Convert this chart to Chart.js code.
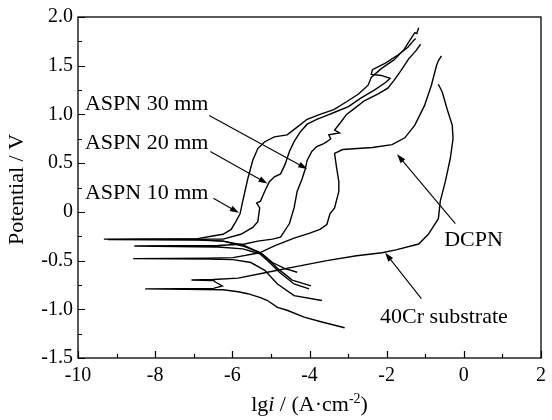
<!DOCTYPE html>
<html>
<head>
<meta charset="utf-8">
<script src="https://cdn.jsdelivr.net/npm/chart.js@4/dist/chart.umd.min.js"></script>
<style>
  html, body { margin: 0; padding: 0; background: #fff; }
  canvas { display: block; }
</style>
</head>
<body>
<canvas id="chart" width="552" height="420"></canvas>
<script>
// Potentiodynamic polarization curves: lg i (A/cm^2) vs potential (V)
const aspn10Lgi = [-4.32,-4.65,-4.96,-5.27,-5.73,-6.24,-6.88,-9.33,-6.90,-6.55,-6.24,-6.03,-5.91,-5.80,-5.73,-5.60,-5.47,-5.34,-5.16,-4.91,-4.58,-4.32,-4.06,-3.73,-3.37,-3.04,-2.73,-2.48,-2.40,-2.14,-1.81,-1.56,-1.40,-1.27,-1.22,-1.17];
const aspn10E   = [-0.62,-0.58,-0.52,-0.42,-0.34,-0.30,-0.285,-0.28,-0.275,-0.25,-0.23,-0.18,-0.10,-0.02,0.11,0.34,0.53,0.65,0.72,0.77,0.79,0.87,0.95,1.00,1.05,1.13,1.21,1.30,1.38,1.47,1.56,1.66,1.76,1.84,1.83,1.89];

const aspn20Lgi = [-3.96,-4.45,-4.83,-5.09,-5.27,-5.73,-6.24,-6.88,-9.23,-6.88,-6.24,-5.78,-5.47,-5.34,-5.29,-5.37,-5.27,-5.14,-5.04,-4.91,-4.75,-4.63,-4.52,-4.40,-4.24,-4.06,-3.81,-3.55,-3.30,-2.99,-2.66,-2.32,-2.02,-1.91,-2.14,-2.40,-2.37,-2.02,-1.71,-1.45,-1.30,-1.25];
const aspn20E   = [-0.76,-0.70,-0.58,-0.48,-0.42,-0.35,-0.30,-0.29,-0.285,-0.28,-0.28,-0.23,-0.16,-0.10,0.04,0.09,0.11,0.23,0.31,0.36,0.39,0.49,0.62,0.72,0.82,0.90,0.95,0.99,1.03,1.08,1.17,1.25,1.33,1.37,1.40,1.41,1.46,1.53,1.61,1.69,1.76,1.78];

const aspn30Lgi = [-4.01,-4.40,-4.78,-5.09,-5.29,-5.73,-6.37,-8.54,-6.37,-5.68,-5.34,-4.96,-4.75,-4.52,-4.40,-4.32,-4.19,-4.11,-4.06,-3.94,-3.81,-3.63,-3.55,-3.45,-3.50,-3.22,-3.35,-3.19,-3.04,-2.84,-2.58,-2.22,-1.97,-1.81,-1.63,-1.43,-1.25,-1.12];
const aspn30E   = [-0.79,-0.74,-0.62,-0.50,-0.43,-0.38,-0.36,-0.35,-0.345,-0.33,-0.30,-0.28,-0.26,-0.12,0.04,0.21,0.34,0.44,0.53,0.62,0.67,0.70,0.72,0.75,0.79,0.81,0.84,0.92,1.00,1.06,1.14,1.21,1.27,1.35,1.45,1.57,1.65,1.72];

const dcpnLgi = [-3.68,-4.40,-4.83,-5.16,-5.52,-5.98,-6.62,-8.57,-6.62,-5.98,-5.29,-4.91,-4.40,-4.01,-3.73,-3.55,-3.47,-3.35,-3.24,-3.24,-3.30,-3.35,-3.14,-2.37,-1.86,-1.53,-1.27,-1.02,-0.84,-0.71,-0.66,-0.58];
const dcpnE   = [-0.91,-0.86,-0.74,-0.60,-0.52,-0.49,-0.485,-0.48,-0.475,-0.47,-0.42,-0.35,-0.27,-0.22,-0.18,-0.13,-0.02,0.04,0.21,0.31,0.46,0.60,0.64,0.66,0.69,0.76,0.89,1.09,1.30,1.50,1.55,1.60];

const substrateLgi = [-3.09,-3.68,-4.14,-4.58,-4.83,-5.09,-5.27,-5.60,-5.85,-6.24,-8.26,-6.49,-6.26,-6.44,-6.49,-7.06,-6.49,-5.85,-5.09,-4.32,-3.55,-2.78,-2.12,-1.76,-1.17,-0.92,-0.66,-0.61,-0.48,-0.35,-0.28,-0.30,-0.43,-0.56,-0.66];
const substrateE   = [-1.19,-1.13,-1.08,-1.01,-0.98,-0.91,-0.88,-0.84,-0.82,-0.80,-0.79,-0.785,-0.76,-0.72,-0.705,-0.70,-0.695,-0.68,-0.62,-0.56,-0.50,-0.45,-0.42,-0.39,-0.33,-0.23,-0.07,0.11,0.31,0.55,0.75,0.89,1.05,1.23,1.31];

// Axis ticks
const lgiTickValues = [-10, -8, -6, -4, -2, 0, 2];
const lgiTickLabels = ['-10', '-8', '-6', '-4', '-2', '0', '2'];
const potentialTickValues = [-1.5, -1.0, -0.5, 0, 0.5, 1.0, 1.5, 2.0];
const potentialTickLabels = ['-1.5', '-1.0', '-0.5', '0', '0.5', '1.0', '1.5', '2.0'];
const lgiMinorValues = [-9, -7, -5, -3, -1, 1];
const potentialMinorValues = [-1.25, -0.75, -0.25, 0.25, 0.75, 1.25, 1.75];

// Curve call-outs: label (left, baseline) and arrow from -> to, in data units
const callouts = [
  { text: 'ASPN 30 mm', at: [-9.82, 1.05], from: [-6.60, 0.99], to: [-4.06, 0.44] },
  { text: 'ASPN 20 mm', at: [-9.82, 0.65], from: [-6.57, 0.62], to: [-5.09, 0.29] },
  { text: 'ASPN 10 mm', at: [-9.82, 0.13], from: [-6.49, 0.14], to: [-5.83, -0.01] },
  { text: 'DCPN', at: [-0.51, -0.35], from: [-0.22, -0.12], to: [-1.73, 0.59] },
  { text: '40Cr substrate', at: [-2.17, -1.14], from: [-1.10, -0.89], to: [-2.04, -0.42] }
];

const SERIF = '"Liberation Serif", "Times New Roman", Times, serif';

function points(xs, ys) {
  return xs.map((x, i) => ({ x: x, y: ys[i] }));
}

function curve(label, xs, ys) {
  return {
    label: label,
    data: points(xs, ys),
    showLine: true,
    borderColor: '#000',
    backgroundColor: '#000',
    borderWidth: 1.4,
    pointRadius: 0,
    pointHoverRadius: 0,
    fill: false,
    tension: 0
  };
}

function drawArrow(ctx, x0, y0, x1, y1) {
  const ang = Math.atan2(y1 - y0, x1 - x0);
  const L = 9, W = 3;
  const c = Math.cos(ang), s = Math.sin(ang);
  ctx.beginPath();
  ctx.moveTo(x0, y0);
  ctx.lineTo(x1 - L * 0.7 * c, y1 - L * 0.7 * s);
  ctx.stroke();
  ctx.beginPath();
  ctx.moveTo(x1, y1);
  ctx.lineTo(x1 - L * c + W * s, y1 - L * s - W * c);
  ctx.lineTo(x1 - L * c - W * s, y1 - L * s + W * c);
  ctx.closePath();
  ctx.fill();
}

const decor = {
  id: 'decor',
  afterDraw(chart) {
    const { ctx, chartArea: a, scales } = chart;
    const xs = scales.x, ys = scales.y;
    ctx.save();
    ctx.strokeStyle = '#000';
    ctx.fillStyle = '#000';

    // frame
    ctx.lineWidth = 1.3;
    ctx.strokeRect(a.left, a.top, a.right - a.left, a.bottom - a.top);

    // inward tick marks
    ctx.lineWidth = 1.2;
    ctx.beginPath();
    lgiTickValues.forEach(v => {
      const p = Math.round(xs.getPixelForValue(v)) + 0.5;
      ctx.moveTo(p, a.bottom); ctx.lineTo(p, a.bottom - 7);
    });
    lgiMinorValues.forEach(v => {
      const p = Math.round(xs.getPixelForValue(v)) + 0.5;
      ctx.moveTo(p, a.bottom); ctx.lineTo(p, a.bottom - 4);
    });
    potentialTickValues.forEach(v => {
      const p = Math.round(ys.getPixelForValue(v)) + 0.5;
      ctx.moveTo(a.left, p); ctx.lineTo(a.left + 7, p);
    });
    potentialMinorValues.forEach(v => {
      const p = Math.round(ys.getPixelForValue(v)) + 0.5;
      ctx.moveTo(a.left, p); ctx.lineTo(a.left + 4, p);
    });
    ctx.stroke();

    // call-outs
    ctx.font = '22px ' + SERIF;
    ctx.textAlign = 'left';
    ctx.textBaseline = 'alphabetic';
    ctx.lineWidth = 1.1;
    callouts.forEach(c => {
      ctx.fillText(c.text, xs.getPixelForValue(c.at[0]), ys.getPixelForValue(c.at[1]));
      drawArrow(ctx,
        xs.getPixelForValue(c.from[0]), ys.getPixelForValue(c.from[1]),
        xs.getPixelForValue(c.to[0]), ys.getPixelForValue(c.to[1]));
    });

    // x axis title: lg i / (A·cm^-2)
    const parts = [
      { t: 'lg', f: '22px ' + SERIF, dy: 0 },
      { t: 'i', f: 'italic 22px ' + SERIF, dy: 0 },
      { t: ' / (A\u00b7cm', f: '22px ' + SERIF, dy: 0 },
      { t: '-2', f: '14px ' + SERIF, dy: -8 },
      { t: ')', f: '22px ' + SERIF, dy: 0 }
    ];
    let total = 0;
    parts.forEach(p => { ctx.font = p.f; p.w = ctx.measureText(p.t).width; total += p.w; });
    let cx = (a.left + a.right) / 2 - total / 2;
    const base = 411;
    parts.forEach(p => {
      ctx.font = p.f;
      ctx.fillText(p.t, cx, base + p.dy);
      cx += p.w;
    });

    // y axis title
    ctx.save();
    ctx.translate(17, (a.top + a.bottom) / 2 + 2);
    ctx.rotate(-Math.PI / 2);
    ctx.font = '22px ' + SERIF;
    ctx.textAlign = 'center';
    ctx.textBaseline = 'middle';
    ctx.fillText('Potential / V', 0, 0);
    ctx.restore();

    ctx.restore();
  }
};

new Chart(document.getElementById('chart'), {
  type: 'scatter',
  data: {
    datasets: [
      curve('ASPN 10 mm', aspn10Lgi, aspn10E),
      curve('ASPN 20 mm', aspn20Lgi, aspn20E),
      curve('ASPN 30 mm', aspn30Lgi, aspn30E),
      curve('DCPN', dcpnLgi, dcpnE),
      curve('40Cr substrate', substrateLgi, substrateE)
    ]
  },
  options: {
    responsive: false,
    animation: false,
    events: [],
    layout: { padding: { left: 0, right: 5, top: 14, bottom: 0 } },
    plugins: {
      legend: { display: false },
      tooltip: { enabled: false },
      title: { display: false }
    },
    scales: {
      x: {
        type: 'linear',
        position: 'bottom',
        min: -10,
        max: 2,
        afterFit(s) { s.height = 62; },
        afterBuildTicks(s) { s.ticks = lgiTickValues.map(v => ({ value: v })); },
        grid: { display: false, drawTicks: false },
        border: { display: false },
        ticks: {
          color: '#000',
          font: { family: SERIF, size: 20 },
          padding: 6,
          maxRotation: 0,
          autoSkip: false,
          callback: (v, i) => lgiTickLabels[i]
        }
      },
      y: {
        type: 'linear',
        position: 'left',
        min: -1.5,
        max: 2,
        afterFit(s) { s.width = 78; },
        afterBuildTicks(s) { s.ticks = potentialTickValues.map(v => ({ value: v })); },
        grid: { display: false, drawTicks: false },
        border: { display: false },
        ticks: {
          color: '#000',
          font: { family: SERIF, size: 20 },
          padding: 5,
          autoSkip: false,
          callback: (v, i) => potentialTickLabels[i]
        }
      }
    }
  },
  plugins: [decor]
});
</script>
</body>
</html>
